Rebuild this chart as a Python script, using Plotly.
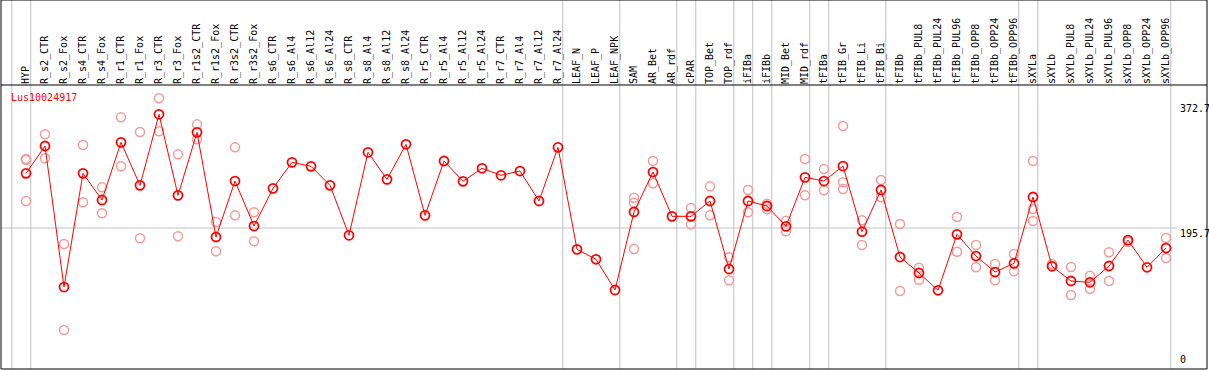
import plotly.graph_objects as go

categories = ["HYP", "R_s2_CTR", "R_s2_Fox", "R_s4_CTR", "R_s4_Fox", "R_r1_CTR", "R_r1_Fox",
              "R_r3_CTR", "R_r3_Fox", "R_r1s2_CTR", "R_r1s2_Fox", "R_r3s2_CTR", "R_r3s2_Fox",
              "R_s6_CTR", "R_s6_Al4", "R_s6_Al12", "R_s6_Al24", "R_s8_CTR", "R_s8_Al4",
              "R_s8_Al12", "R_s8_Al24", "R_r5_CTR", "R_r5_Al4", "R_r5_Al12", "R_r5_Al24",
              "R_r7_CTR", "R_r7_Al4", "R_r7_Al12", "R_r7_Al24", "LEAF_N", "LEAF_P", "LEAF_NPK",
              "SAM", "AR_Bet", "AR_rdf", "cPAR", "TOP_Bet", "TOP_rdf", "iFIBa", "iFIBb",
              "MID_Bet", "MID_rdf", "tFIBa", "tFIB_Gr", "tFIB_Li", "tFIB_Bi", "tFIBb",
              "tFIBb_PUL8", "tFIBb_PUL24", "tFIBb_PUL96", "tFIBb_OPP8", "tFIBb_OPP24",
              "tFIBb_OPP96", "sXYLa", "sXYLb", "sXYLb_PUL8", "sXYLb_PUL24", "sXYLb_PUL96",
              "sXYLb_OPP8", "sXYLb_OPP24", "sXYLb_OPP96"]

mean_values = [273.0, 311.6, 112.3, 273.0, 235.3, 316.8, 256.0, 356.4, 241.9, 330.9, 183.0,
               262.1, 198.5, 251.8, 288.5, 282.9, 256.0, 185.4, 302.7, 264.5, 314.0, 213.6,
               290.4, 261.7, 280.1, 270.2, 276.2, 233.9, 309.7, 165.6, 151.5, 108.1, 218.3,
               274.8, 212.2, 212.2, 233.9, 137.8, 233.9, 226.8, 198.1, 267.3, 262.1, 283.3,
               190.5, 249.4, 154.7, 132.1, 107.7, 186.8, 156.1, 133.5, 145.8, 239.5, 141.6,
               120.8, 119.0, 142.0, 178.7, 140.2, 167.4]

N = None
rep1 = [293.2, 328.1, 173.1, 313.0, 253.2, 352.1, 331.4, 379.0, 299.8, 342.2, 204.2, 309.7, 217.9,
        N, N, N, N, N, N, N, N, N, N, N, N, N, N, N, N, N, N, N,
        238.5, 290.4, N, 224.0, 254.6, 154.3, 249.4, 230.0, 206.0, 293.2, 279.1, 339.8, 206.6,
        263.5, 201.4, 139.6, N, 211.2, 171.7, 144.8, 159.0, 290.4, 144.8, 140.6, 128.3, 161.4,
        176.3, N, 181.6]
rep2 = [291.8, 294.2, 51.6, 232.0, 216.5, 282.9, 181.2, 332.3, 184.0, 321.0, 162.8, 213.6, 176.9,
        N, N, N, N, N, N, N, N, N, N, N, N, N, N, N, N, N, N, N,
        231.5, 258.9, N, 200.9, 213.6, 121.8, 217.9, 222.1, 191.0, 241.9, 249.0, 260.3, 171.7,
        239.1, 106.7, 122.6, N, 162.2, 140.2, 121.8, 134.5, 222.6, N, 101.0, 109.9, 120.8,
        N, N, 153.3]
rep3 = [233.9, N, N, N, N, N, N, N, N, N, N, N, N,
        N, N, N, N, N, N, N, N, N, N, N, N, N, N, N, N, N, N, N,
        166.0, N, N, N, N, N, N, N, N, N, N, 250.8, N,
        N, N, N, N, N, N, N, N, 205.6, N, N, N, N,
        N, N, N]

gene_name = "Lus10024917"
axis_labels = [0, 195.7, 372.7]
separators_after = [-1, 0, 28, 31, 34, 35, 37, 38, 39, 41, 42, 45, 52, 53, 60]

FONT = "DejaVu Sans Mono"
W, H = 1209, 370
PLOT_L, PLOT_R, PLOT_T, PLOT_B = 1, 1207, 85, 369
Y_RANGE = [-3.53, 397.8]
X_RANGE = [-1.3158, 62.158]

xs = list(range(len(categories)))
px, py = [], []
for reps in (rep1, rep2, rep3):
    for i, v in enumerate(reps):
        if v is not None:
            px.append(i)
            py.append(v)

fig = go.Figure()
fig.add_trace(go.Scatter(x=px, y=py, mode="markers",
                         marker=dict(symbol="circle-open", size=9, color="#f09a9a",
                                     line=dict(width=1.5, color="#f09a9a")),
                         hoverinfo="skip", showlegend=False))
fig.add_trace(go.Scatter(x=xs, y=mean_values, mode="lines+markers",
                         line=dict(color="#ff0000", width=1),
                         marker=dict(symbol="circle-open", size=9, color="#ff0000",
                                     line=dict(width=1.8, color="#ff0000")),
                         showlegend=False))

top_paper = (PLOT_B - 0) / (PLOT_B - PLOT_T)
shapes = []
for s in separators_after:
    shapes.append(dict(type="line", xref="x", yref="paper", x0=s + 0.25, x1=s + 0.25,
                       y0=0, y1=top_paper, line=dict(color="#c0c0c0", width=1), layer="below"))
shapes.append(dict(type="line", xref="paper", yref="y", x0=0, x1=(1177 - PLOT_L) / (PLOT_R - PLOT_L),
                   y0=axis_labels[1], y1=axis_labels[1], line=dict(color="#c0c0c0", width=1),
                   layer="below"))
shapes.append(dict(type="rect", xref="paper", yref="paper", x0=0, x1=1, y0=0, y1=top_paper,
                   line=dict(color="black", width=1)))
shapes.append(dict(type="line", xref="paper", yref="paper", x0=0, x1=1, y0=1, y1=1,
                   line=dict(color="black", width=1)))

annotations = [dict(text=gene_name, xref="paper", yref="paper",
                    x=(9 - PLOT_L) / (PLOT_R - PLOT_L), y=(PLOT_B - 97) / (PLOT_B - PLOT_T),
                    xanchor="left", yanchor="middle", showarrow=False,
                    font=dict(family=FONT, size=10, color="#ff0000"))]
for v in axis_labels:
    annotations.append(dict(text=("0" if v == 0 else f"{v}"), xref="paper", yref="y",
                            x=(1178 - PLOT_L) / (PLOT_R - PLOT_L), y=v,
                            xanchor="left", yanchor=("bottom" if v == 0 else "top"),
                            yshift=(0 if v == 0 else 2), showarrow=False,
                            font=dict(family=FONT, size=10, color="black")))

fig.update_layout(
    width=W, height=H, template="none",
    margin=dict(l=PLOT_L, r=W - PLOT_R, t=PLOT_T, b=H - PLOT_B, pad=0),
    paper_bgcolor="white", plot_bgcolor="white",
    shapes=shapes, annotations=annotations, showlegend=False,
    xaxis=dict(range=X_RANGE, side="top", tickmode="array", tickvals=xs, ticktext=categories,
               tickangle=-90, tickfont=dict(family=FONT, size=10, color="black"),
               ticks="", showgrid=False, zeroline=False, showline=False, automargin=False),
    yaxis=dict(range=Y_RANGE, showticklabels=False, showgrid=False, zeroline=False,
               showline=False, automargin=False, ticks=""),
)

fig.write_html("out.html", config={"displayModeBar": False},
               post_script="document.body.style.margin='0';document.body.style.padding='0';"
                           "document.body.style.overflow='hidden';")
